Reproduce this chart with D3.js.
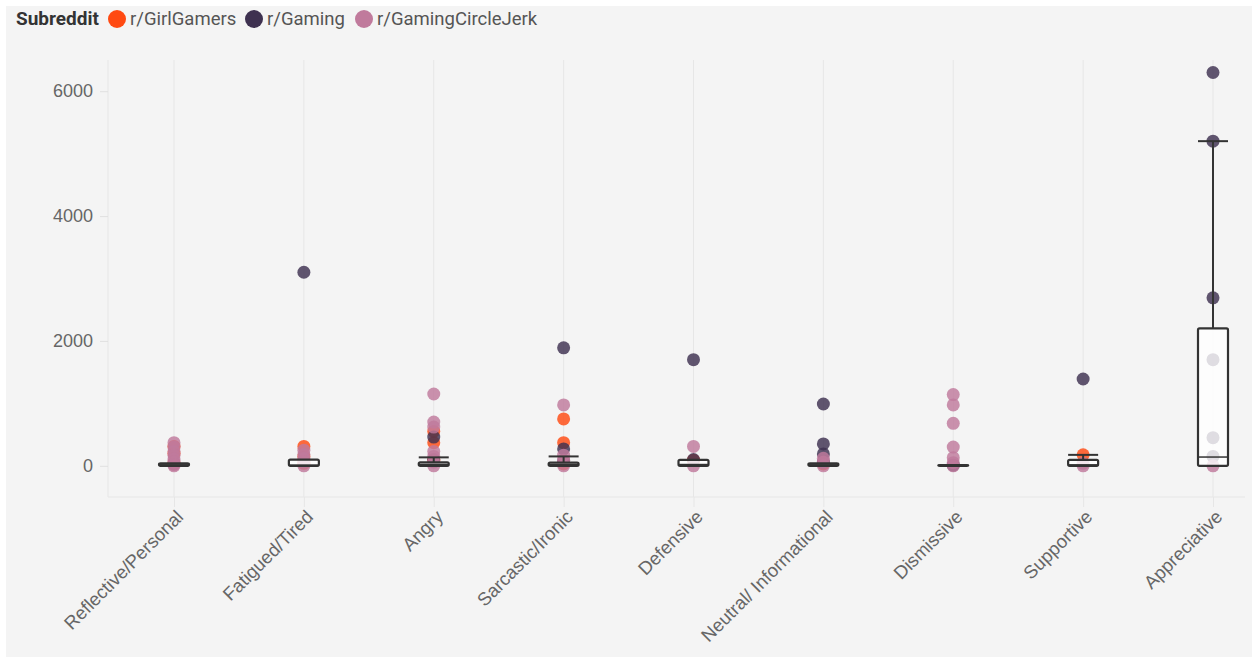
<!DOCTYPE html>
<html>
<head>
<meta charset="utf-8">
<script src="https://cdn.jsdelivr.net/npm/d3@7"></script>
<style>
  html, body { margin: 0; padding: 0; background: #ffffff; }
  svg { display: block; font-family: Roboto, "Noto Sans", sans-serif; }
</style>
</head>
<body>
<svg id="chart" width="1252" height="657"></svg>
<script>
const categories = ["Reflective/Personal", "Fatigued/Tired", "Angry", "Sarcastic/Ironic", "Defensive",
  "Neutral/ Informational", "Dismissive", "Supportive", "Appreciative"];
const seriesNames = ["r/GirlGamers", "r/Gaming", "r/GamingCircleJerk"];
const seriesColors = ["#ff4a12", "#3e3150", "#c07a9c"];
const yTicks = [0, 2000, 4000, 6000];

// scores per category, one list per subreddit
const girlGamers = [[310, 200, 50], [310, 150, 40], [550, 370, 90], [750, 370, 30], [90],
  [30], [], [175], []];
const gaming = [[30], [3100], [460, 100], [1890, 270, 80], [1700, 100],
  [990, 350, 190, 60], [10], [1390], [6300, 5200, 2690, 1700, 450, 150]];
const circleJerk = [[370, 300, 230, 170, 110, 60, 20, 0], [250, 180, 120, 60, 0],
  [1150, 700, 620, 230, 150, 60, 0], [975, 170, 90, 0], [310, 0], [120, 60, 0],
  [1140, 975, 680, 300, 130, 50, 0], [40, 0], [0]];

// box plot statistics per category
const boxLow = [0, 0, 0, 0, 0, 0, 0, 0, 0];
const boxQ1 = [0, 0, 0, 0, 0, 0, 0, 0, 0];
const boxMedian = [15, 10, 20, 20, 20, 15, 5, 15, 140];
const boxQ3 = [40, 100, 55, 50, 95, 40, 10, 95, 2200];
const boxHigh = [40, 100, 135, 150, 95, 40, 10, 175, 5200];

const svg = d3.select("#chart");
svg.append("rect").attr("x", 6).attr("y", 6).attr("width", 1246).attr("height", 651).attr("fill", "#f4f4f4");

const plotLeft = 108, plotRight = 1245, plotTop = 60, plotBottom = 497;
const x = d3.scalePoint().domain(categories).range([174, 1213]);
const y = d3.scaleLinear().domain([-500, 6500]).range([plotBottom, plotTop]);

// vertical grid lines
svg.append("g").selectAll("line").data(categories).join("line")
  .attr("x1", d => x(d)).attr("x2", d => x(d))
  .attr("y1", plotTop).attr("y2", plotBottom)
  .attr("stroke", "#e6e6e6").attr("stroke-width", 1);

// axes
const yAxis = svg.append("g").attr("transform", `translate(${plotLeft},0)`)
  .call(d3.axisLeft(y).tickValues(yTicks).tickSize(8).tickPadding(7).tickFormat(d3.format("d")));
yAxis.select(".domain").attr("stroke", "#e6e6e6").attr("d", `M0,${plotTop}V${plotBottom}`);
yAxis.selectAll(".tick line").attr("stroke", "#e0e0e0");
yAxis.selectAll(".tick text").attr("fill", "#666").style("font-size", "18px");

const xAxis = svg.append("g").attr("transform", `translate(0,${plotBottom})`)
  .call(d3.axisBottom(x).tickSize(10).tickPadding(4));
xAxis.select(".domain").attr("stroke", "#e6e6e6").attr("d", `M${plotLeft},0H${plotRight}`);
xAxis.selectAll(".tick line").attr("stroke", "#e6e6e6");
xAxis.selectAll(".tick text")
  .attr("fill", "#666").style("font-size", "18.5px")
  .attr("text-anchor", "end")
  .attr("dy", null).attr("y", null)
  .attr("transform", "translate(10,21) rotate(-45)");

// points
const allSeries = [girlGamers, gaming, circleJerk];
const pts = [];
allSeries.forEach((ser, si) => ser.forEach((vals, ci) => vals.forEach(v => pts.push({ s: si, c: categories[ci], v }))));
svg.append("g").selectAll("circle").data(pts).join("circle")
  .attr("cx", d => x(d.c)).attr("cy", d => y(d.v)).attr("r", 6.5)
  .attr("fill", d => seriesColors[d.s]).attr("fill-opacity", 0.82);

// box plots
const bw = 30;
const boxes = categories.map((c, i) => ({ c, lo: boxLow[i], q1: boxQ1[i], med: boxMedian[i], q3: boxQ3[i], hi: boxHigh[i] }));
const bg = svg.append("g").selectAll("g").data(boxes).join("g");
bg.append("line").attr("x1", d => x(d.c)).attr("x2", d => x(d.c))
  .attr("y1", d => y(d.q3)).attr("y2", d => y(d.hi)).attr("stroke", "#333").attr("stroke-width", 2);
bg.filter(d => d.hi > d.q3).append("line").attr("x1", d => x(d.c) - bw / 2).attr("x2", d => x(d.c) + bw / 2)
  .attr("y1", d => y(d.hi)).attr("y2", d => y(d.hi)).attr("stroke", "#333").attr("stroke-width", 2);
bg.append("rect").attr("x", d => x(d.c) - bw / 2).attr("width", bw)
  .attr("y", d => y(d.q3)).attr("height", d => Math.max(0, y(d.q1) - y(d.q3)))
  .attr("fill", "#ffffff").attr("fill-opacity", 0.8)
  .attr("stroke", "#333").attr("stroke-width", 2.2).attr("rx", 1.5);
bg.append("line").attr("x1", d => x(d.c) - bw / 2).attr("x2", d => x(d.c) + bw / 2)
  .attr("y1", d => y(d.med)).attr("y2", d => y(d.med)).attr("stroke", "#333").attr("stroke-width", 1.5);

// legend
const lg = svg.append("g");
lg.append("text").attr("x", 16).attr("y", 25).text("Subreddit")
  .attr("fill", "#333").style("font-size", "19px").style("font-weight", "bold");
const legX = [117, 254, 364];
seriesNames.forEach((n, i) => {
  lg.append("circle").attr("cx", legX[i]).attr("cy", 19).attr("r", 9).attr("fill", seriesColors[i]);
  lg.append("text").attr("x", legX[i] + 13).attr("y", 25).text(n)
    .attr("fill", "#555").style("font-size", "18.5px");
});
</script>
</body>
</html>
